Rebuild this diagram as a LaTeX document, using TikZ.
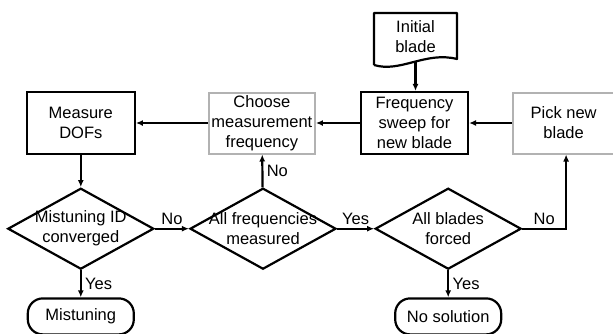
\documentclass[tikz,border=0pt]{standalone}
\usepackage{fontspec}
\setmainfont{Liberation Sans}
\usetikzlibrary{shapes.geometric, arrows.meta, positioning}

\begin{document}
\begin{tikzpicture}[
    node distance=30pt and 40pt,
    font=\fontsize{16.5}{20}\selectfont,
    process/.style={rectangle, draw=black, line width=2.2pt,
                    minimum width=107pt, minimum height=62pt,
                    inner sep=0pt, align=center},
    option/.style={rectangle, draw=gray!60, line width=2pt,
                   minimum width=106pt, minimum height=61pt,
                   inner sep=0pt, align=center},
    decision/.style={diamond, draw, line width=2.2pt,
                     minimum width=146pt, minimum height=81pt, inner sep=0pt},
    dtext/.style={align=center, inner sep=0pt},
    terminal/.style={rectangle, rounded corners=15pt, draw, line width=2.2pt,
                     minimum width=106pt, minimum height=36pt, inner sep=0pt},
    arrow/.style={-{Latex[length=7pt,width=6pt]}, line width=2.2pt}
]
\useasboundingbox (0,0) rectangle (613pt,-333pt);

% Top row of boxes
\node[process] (sweep) at (414.5pt,-123pt) {Frequency\\sweep for\\new blade};
\node[option, left=44pt of sweep] (choose) {Choose\\measurement\\frequency};
\node[process, minimum width=108pt, left=72pt of choose] (measure) {Measure\\DOFs};
\node[option, minimum width=101pt, right=43pt of sweep] (pick) {Pick new\\blade};

% Start document shape
\node[align=center, inner sep=0pt] (init) at ([xshift=1pt, yshift=86pt]sweep) {Initial\\blade};
\draw[line width=2.2pt, line join=round]
    ([shift={(-41.5pt,-28pt)}]init.center) |- ([shift={(41.5pt,24pt)}]init.center)
    -- ([shift={(41.5pt,-22pt)}]init.center)
    .. controls ([shift={(10pt,-14pt)}]init.center) and ([shift={(-15pt,-36pt)}]init.center)
    .. ([shift={(-41.5pt,-28pt)}]init.center);
\coordinate (initbot) at ([yshift=-25pt]init.center);

% Decisions
\node[decision, below=32pt of measure,
      label={[dtext]center:Mistuning ID\\converged}] (mist) {};
\node[decision, right=34pt of mist,
      label={[dtext]center:All frequencies\\measured}] (allf) {};
\node[decision, right=37pt of allf,
      label={[dtext]center:All blades\\forced}] (allb) {};

% Ends
\node[terminal, below=27pt of mist] (mistuning) {Mistuning};
\node[terminal, below=27pt of allb] (nosol) {No solution};

% Connectors
\draw[arrow] (initbot) -- (initbot |- sweep.north);
\draw[arrow] (pick) -- (sweep);
\draw[arrow] (sweep) -- (choose);
\draw[arrow] (choose) -- (measure);
\draw[arrow] (measure) -- (mist);
\draw[arrow] (mist) -- node[above]{No} (allf);
\draw[arrow] (mist) -- node[right]{Yes} (mistuning);
\draw[arrow] (allf) -- node[right]{No} (choose);
\draw[arrow] (allf) -- node[above]{Yes} (allb);
\draw[arrow] (allb) -- node[right]{Yes} (nosol);
\draw[arrow] (allb) -| node[pos=0.25, above]{No} ([xshift=2.5pt]pick.south);

\end{tikzpicture}
\end{document}
